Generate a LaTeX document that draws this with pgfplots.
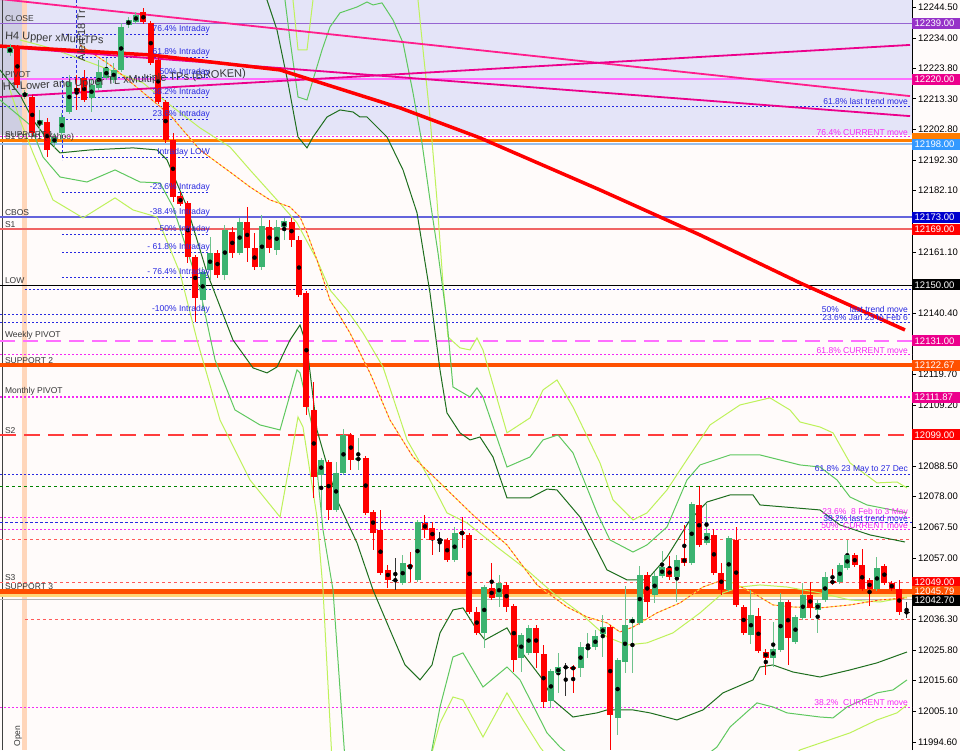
\documentclass[border=0pt]{standalone}
\usepackage{fontspec}
\setmainfont{Liberation Sans}
\usepackage{pgfplots}
\usepackage{pgfplotstable}
\pgfplotsset{compat=1.18}

\definecolor{bg}{RGB}{255,251,250}
\definecolor{lav}{RGB}{228,228,248}
\definecolor{lavdark}{RGB}{206,206,226}
\definecolor{peach}{RGB}{255,214,186}
\definecolor{cup}{RGB}{60,179,113}
\definecolor{cupw}{RGB}{110,195,140}
\definecolor{cdn}{RGB}{255,0,0}
\definecolor{dkg}{RGB}{30,110,30}
\definecolor{mdg}{RGB}{95,200,95}
\definecolor{ltg}{RGB}{190,242,90}
\definecolor{fibb}{RGB}{40,40,225}
\definecolor{fibm}{RGB}{245,40,245}
\definecolor{pinkd}{RGB}{255,30,140}
\definecolor{magl}{RGB}{255,110,255}
\definecolor{orng}{RGB}{255,80,0}
\definecolor{orng2}{RGB}{255,125,0}
\definecolor{closec}{RGB}{150,100,210}
\definecolor{cbosc}{RGB}{100,100,220}
\definecolor{s1c}{RGB}{240,100,100}
\definecolor{reddot}{RGB}{255,90,90}
\definecolor{s2c}{RGB}{255,60,60}
\definecolor{ltblue}{RGB}{150,190,235}
\definecolor{dgdot}{RGB}{0,130,0}
\definecolor{ylband}{RGB}{255,215,120}
\definecolor{bidc}{RGB}{180,180,180}
\definecolor{mayel}{RGB}{255,225,60}
\definecolor{mared}{RGB}{255,50,50}
\definecolor{txt}{RGB}{55,55,55}
\definecolor{bxpurple}{RGB}{150,50,200}
\definecolor{bxblue}{RGB}{51,153,255}
\definecolor{bxdblue}{RGB}{0,0,205}

\newcommand{\lfont}{\fontsize{8.5}{10}\selectfont}
\newcommand{\tfont}{\fontsize{9.5}{11}\selectfont}
\newcommand{\bfont}{\fontsize{11}{13}\selectfont}

% full-width and intraday horizontal lines
\newcommand{\HL}[2]{\addplot[#1] coordinates {(-1.35,#2) (121.73,#2)};}
\newcommand{\SL}[2]{\addplot[#1] coordinates {(7.02,#2) (26.99,#2)};}
% labels
\newcommand{\llab}[2]{\node[anchor=south west, font=\lfont, text=txt, inner sep=0pt, yshift=1.5pt] at (axis cs:-0.7,#1) {#2};}
\newcommand{\rlab}[3]{\node[anchor=south east, font=\lfont, text=#1, inner sep=0pt, yshift=1pt] at (axis cs:121.2,#2) {#3};}
\newcommand{\ilab}[2]{\node[anchor=south east, font=\lfont, text=fibb, inner sep=0pt, yshift=1pt] at (axis cs:26.99,#1) {#2};}
\newcommand{\pbox}[3]{\node[anchor=west, fill=#1, text=white, font=\tfont, inner xsep=2.5pt, inner ysep=0pt, minimum height=11pt, text width=43pt, align=left] at (axis cs:121.73,#2) {#3};}

\pgfplotstableread{
i o h l c
1 12230.6 12231.6 12217.0 12218.0
3 12213.9 12214.6 12200.6 12201.7
5 12205.4 12206.8 12193.5 12195.9
9 12217.0 12221.4 12209.5 12215.9
10 12220.4 12223.1 12212.2 12212.9
18 12242.8 12244.2 12238.7 12239.4
19 12239.1 12239.7 12224.8 12225.5
20 12226.5 12227.2 12211.5 12212.2
21 12212.2 12212.9 12198.3 12199.3
22 12199.3 12201.7 12178.2 12179.9
23 12180.2 12181.6 12176.8 12177.5
24 12177.9 12178.5 12157.5 12159.5
25 12159.5 12160.2 12137.4 12145.6
28 12160.9 12161.9 12152.4 12153.4
30 12168.0 12169.7 12159.2 12160.9
32 12171.7 12176.5 12157.8 12162.6
33 12162.6 12167.7 12155.1 12156.1
35 12169.7 12172.1 12160.9 12162.6
38 12171.4 12172.8 12162.9 12165.3
39 12165.3 12166.6 12145.9 12146.6
40 12147.3 12147.9 12105.8 12108.5
41 12107.5 12117.0 12077.6 12084.7
43 12089.8 12090.5 12070.1 12073.5
46 12099.0 12099.7 12087.1 12090.5
48 12091.2 12091.8 12071.8 12072.5
49 12072.8 12073.5 12059.9 12065.7
50 12066.7 12073.5 12051.4 12052.1
51 12053.1 12054.8 12047.0 12049.7
54 12054.8 12059.2 12049.0 12054.1
56 12069.1 12071.8 12064.0 12066.7
57 12067.4 12069.4 12058.2 12063.3
59 12063.3 12064.0 12055.8 12056.5
61 12066.0 12071.1 12060.6 12065.4
62 12065.0 12065.7 12038.1 12038.8
63 12038.8 12040.5 12031.0 12031.7
65 12047.0 12055.5 12042.9 12043.6
67 12048.0 12049.0 12038.8 12040.5
68 12040.8 12041.5 12018.4 12022.5
71 12033.4 12034.4 12019.8 12024.9
72 12024.5 12027.9 12006.5 12008.2
76 12020.1 12020.8 12011.3 12019.4
81 12033.7 12034.4 11991.9 12003.8
86 12051.7 12052.4 12037.1 12042.2
89 12053.8 12057.8 12049.7 12050.7
91 12057.2 12068.4 12054.4 12055.5
93 12075.2 12081.6 12060.9 12061.6
95 12065.0 12067.0 12051.4 12052.1
96 12052.1 12055.5 12044.6 12046.3
98 12063.3 12068.0 12040.5 12041.2
99 12040.8 12041.5 12031.0 12031.7
101 12037.4 12040.2 12024.9 12025.5
102 12025.5 12026.2 12017.4 12023.2
105 12042.2 12042.9 12020.8 12030.0
108 12044.6 12049.0 12036.8 12040.2
111 12049.3 12053.4 12048.0 12048.7
114 12058.2 12058.9 12054.1 12054.8
115 12054.8 12060.3 12045.9 12046.6
116 12049.7 12050.4 12040.8 12046.6
118 12054.4 12055.1 12048.0 12048.7
119 12048.7 12049.3 12045.9 12046.6
120 12046.6 12050.0 12038.1 12038.8
}\redc

\pgfplotstableread{
i o h l c
0 12228.9 12231.9 12227.8 12230.9
2 12214.2 12216.3 12213.2 12215.3
4 12204.4 12209.5 12200.3 12206.1
6 12198.3 12201.7 12196.6 12200.3
7 12201.7 12208.5 12199.3 12207.1
8 12208.8 12221.4 12208.1 12219.0
11 12213.6 12219.7 12208.8 12218.0
12 12217.0 12226.5 12216.3 12222.4
13 12220.4 12227.2 12219.7 12223.8
14 12219.7 12225.5 12218.7 12223.1
15 12223.1 12239.1 12222.4 12237.7
16 12238.4 12241.1 12237.4 12240.1
17 12239.4 12242.8 12238.7 12241.8
26 12144.9 12156.1 12141.5 12154.4
27 12155.1 12166.3 12151.7 12160.9
29 12153.4 12170.4 12151.7 12168.7
31 12160.9 12172.8 12160.2 12171.4
34 12156.1 12173.8 12155.1 12170.0
36 12161.9 12172.1 12160.2 12169.7
37 12169.7 12172.8 12165.3 12171.7
42 12085.4 12091.2 12070.8 12090.5
44 12073.5 12089.8 12072.8 12086.1
45 12086.1 12101.0 12085.4 12099.0
47 12090.5 12097.9 12087.1 12091.2
53 12048.7 12058.2 12048.0 12055.5
55 12049.7 12070.1 12049.0 12069.4
60 12056.5 12067.7 12055.8 12065.7
64 12031.7 12048.0 12026.6 12047.3
66 12043.9 12051.4 12040.5 12048.7
69 12023.2 12031.7 12018.4 12031.0
70 12024.9 12034.4 12024.2 12033.4
73 12008.5 12019.4 12006.2 12018.7
74 12018.1 12024.9 12011.3 12020.1
77 12019.8 12028.6 12016.7 12026.9
78 12026.2 12031.7 12023.2 12026.9
79 12026.9 12032.7 12025.9 12030.6
80 12031.3 12037.8 12023.5 12033.7
82 12002.8 12023.2 11997.0 12022.5
83 12021.8 12047.6 12018.1 12034.4
84 12035.1 12037.1 12018.1 12036.4
85 12035.1 12054.4 12034.4 12051.4
87 12044.6 12052.4 12041.9 12051.0
88 12051.0 12059.6 12050.4 12054.1
90 12050.7 12058.2 12042.2 12056.5
92 12055.5 12076.2 12054.8 12075.5
94 12062.3 12075.5 12061.6 12065.7
97 12046.3 12064.7 12045.6 12064.0
100 12031.0 12046.3 12027.9 12037.8
103 12023.2 12035.4 12020.1 12026.2
104 12025.9 12045.3 12025.2 12042.2
106 12028.6 12037.8 12027.9 12037.1
107 12036.8 12048.7 12036.1 12044.6
109 12039.5 12042.9 12031.7 12041.9
110 12042.9 12052.4 12042.2 12051.0
112 12049.0 12055.5 12048.3 12054.8
113 12053.8 12063.3 12053.1 12058.2
117 12046.6 12057.5 12045.9 12053.8
}\greenc

\pgfplotstableread{
i o h l c
52 12049.7 12057.2 12046.3 12049.7
58 12063.3 12066.0 12059.2 12063.3
75 12020.1 12021.5 12010.2 12020.1
121 12038.8 12042.2 12036.8 12038.8
}\dojic

% red/yellow dashed moving average
\pgfplotstableread{
x y
9.45 12231.6
13.50 12224.8
17.54 12216.3
21.59 12207.8
25.64 12195.9
29.69 12188.4
32.39 12183.3
35.09 12178.9
37.79 12176.5
39.14 12173.1
40.08 12167.7
41.43 12158.5
43.18 12144.9
45.88 12133.7
48.58 12120.1
51.28 12104.1
54.39 12091.5
57.62 12083.7
62.48 12071.8
67.07 12061.6
71.12 12048.0
75.17 12040.5
77.87 12037.1
80.57 12035.1
82.32 12032.0
84.08 12033.7
87.31 12038.5
90.42 12041.9
93.52 12047.3
96.22 12049.7
97.57 12048.7
100.27 12045.3
102.97 12041.2
105.67 12040.5
109.31 12040.2
113.36 12041.2
117.41 12042.9
121.05 12043.6
}\matab

\begin{document}
\begin{tikzpicture}
\fill[bg] (0,0) rectangle (960pt,750pt);
\begin{axis}[
    at={(0,0)}, anchor=south west,
    scale only axis, width=912pt, height=750pt,
    xmin=-1.35, xmax=121.73,
    ymin=11991.88, ymax=12246.88,
    clip mode=individual,
    axis x line=none,
    axis y line*=right,
    y axis line style={black, line width=0.8pt},
    scaled y ticks=false,
    ytick={12244.5,12234,12223.8,12213.3,12202.8,12192.3,12182.1,12161.1,12140.4,12119.7,12109.2,12088.5,12078,12067.5,12057,12036.3,12025.8,12015.6,12005.1,11994.6},
    tick align=outside,
    major tick length=4pt,
    ytick style={black, line width=0.6pt},
    yticklabel style={font=\tfont, text=black, inner xsep=2pt,
        /pgf/number format/fixed, /pgf/number format/fixed zerofill,
        /pgf/number format/precision=2, /pgf/number format/1000 sep={},
        /pgf/number format/assume math mode=true},
    candle/.style={only marks, no markers, mark options={draw=none, fill=none},
        error bars/.cd, y dir=both, y explicit, error mark=none},
]
% shaded zones
\addplot[fill=lav, draw=none] coordinates {(-1.35,12201.0) (121.73,12201.0) (121.73,12246.88) (-1.35,12246.88)} -- cycle;
\addplot[fill=lavdark, draw=none] coordinates {(-1.35,12201.0) (1.62,12201.0) (1.62,12246.88) (-1.35,12246.88)} -- cycle;
\addplot[fill=peach, draw=none] coordinates {(1.62,11991.88) (2.3,11991.88) (2.3,12246.88) (1.62,12246.88)} -- cycle;
\addplot[black!75, line width=1pt] coordinates {(-1.08,11991.88) (-1.08,12246.88)};

% horizontal levels
\HL{closec, line width=1.2pt}{12239}
\HL{magl, line width=1.5pt}{12220}
\HL{fibb, line width=0.9pt, dash pattern=on 2pt off 2pt}{12210.8}
\HL{fibm, line width=1pt, dash pattern=on 2pt off 2pt}{12200.3}
\HL{ltblue, line width=2pt}{12198.0}
\HL{orng2, line width=3pt}{12199.0}
\HL{cbosc, line width=1.8pt}{12173}
\HL{s1c, line width=1.2pt}{12169}
\HL{black, line width=0.8pt}{12150}
\addplot[fibb, line width=0.9pt, dash pattern=on 2pt off 2pt] coordinates {(2.0,12148.6) (121.73,12148.6)};
\HL{fibb, line width=0.9pt, dash pattern=on 2pt off 2pt}{12140.1}
\HL{fibb, line width=0.9pt, dash pattern=on 2pt off 2pt}{12137.4}
\HL{magl, line width=1.4pt, dash pattern=on 15pt off 8pt}{12131}
\HL{fibm, line width=1pt, dash pattern=on 2pt off 2pt}{12126.2}
\HL{orng, line width=4pt}{12122.67}
\HL{fibm, line width=1.2pt, dash pattern=on 2pt off 2pt}{12111.87}
\HL{s2c, line width=1.2pt, dash pattern=on 16pt off 8pt}{12099}
\HL{fibb, line width=0.9pt, dash pattern=on 2pt off 2pt}{12085.7}
\HL{dgdot, line width=0.9pt, dash pattern=on 3pt off 3pt}{12081.6}
\HL{fibm, line width=1pt, dash pattern=on 2pt off 2pt}{12071.1}
\HL{fibb, line width=0.9pt, dash pattern=on 3pt off 2pt}{12069.1}
\HL{fibm, line width=1pt, dash pattern=on 2pt off 2pt}{12066.7}
\HL{reddot, line width=1pt, dash pattern=on 3pt off 3pt}{12063.3}
\HL{reddot, line width=1pt, dash pattern=on 3pt off 3pt}{12049}
\HL{ylband, line width=4pt}{12044.6}
\HL{orng, line width=4.5pt}{12045.79}
\HL{bidc, line width=1pt}{12042.9}
\addplot[reddot, line width=1pt, dash pattern=on 3pt off 3pt] coordinates {(2.0,12036.4) (121.73,12036.4)};
\HL{fibm, line width=1pt, dash pattern=on 2pt off 2pt}{12006.5}

% intraday fibonacci lines
\SL{fibb, line width=0.9pt, dash pattern=on 2pt off 2pt}{12235.0}
\SL{fibb, line width=0.9pt, dash pattern=on 2pt off 2pt}{12227.2}
\SL{fibb, line width=0.9pt, dash pattern=on 2pt off 2pt}{12220.7}
\SL{fibb, line width=0.9pt, dash pattern=on 2pt off 2pt}{12213.9}
\SL{fibb, line width=0.9pt, dash pattern=on 2pt off 2pt}{12206.4}
\SL{fibb, line width=0.9pt, dash pattern=on 2pt off 2pt}{12193.5}
\SL{fibb, line width=0.9pt, dash pattern=on 2pt off 2pt}{12181.3}
\SL{fibb, line width=0.9pt, dash pattern=on 2pt off 2pt}{12167.0}
\SL{fibb, line width=0.9pt, dash pattern=on 2pt off 2pt}{12160.9}
\SL{fibb, line width=0.9pt, dash pattern=on 2pt off 2pt}{12152.7}

% vertical markers
\addplot[fibb, line width=0.9pt, dash pattern=on 3pt off 2pt] coordinates {(7.05,12219.7) (7.05,12192.5)};
\addplot[fibb, line width=0.9pt, dash pattern=on 3pt off 2pt] coordinates {(8.95,12246.88) (8.95,12212.9)};

% band envelopes
\addplot[ltg, line width=1pt] coordinates {
(37.79,12257.1) (38.19,12246.9) (38.87,12229.9) (40.08,12229.9) (40.89,12246.9) (41.57,12257.1)
(54.25,12257.1) (55.06,12246.9) (55.74,12229.9) (56.68,12207.1) (57.62,12178.9) (58.43,12150.7)
(59.11,12132.3) (60.73,12128.6) (62.08,12127.9) (63.02,12132.0) (63.83,12127.9) (67.07,12099.7)
(70.18,12104.8) (71.93,12114.3) (73.82,12117.7) (75.98,12108.5) (79.62,12089.5) (81.38,12076.9)
(84.08,12070.1) (85.96,12072.5) (88.66,12080.3) (91.77,12092.2) (94.47,12102.4) (98.52,12109.2)
(102.56,12111.6) (105.26,12107.5) (106.61,12103.4) (109.31,12101.7) (111.07,12099.7) (113.36,12089.5)
(117.00,12082.7) (119.70,12083.0) (121.05,12081.0)};
\addplot[ltg, line width=1pt] coordinates {
(0,12216.3) (1.35,12206.1) (3.10,12194.9) (5.80,12178.9) (9.85,12172.8) (14.17,12179.6)
(16.60,12175.5) (19.84,12173.1) (22.94,12154.1) (25.24,12131.3) (28.34,12104.1) (32.39,12083.7)
(36.44,12071.1) (38.87,12105.1) (39.54,12101.7) (41.43,12071.1) (42.24,12046.3) (43.45,11988.5)
(56.68,11988.5) (58.03,12001.1) (59.78,12009.9) (61.13,12008.9) (63.83,11996.3) (67.07,12011.3)
(69.23,12002.1) (71.52,11992.9) (72.87,11988.5) (105.26,11988.5) (106.61,11991.9) (113.36,11997.7)
(117.00,12002.1) (119.70,12004.5) (121.05,12007.2)};
\addplot[mdg, line width=1pt] coordinates {
(36.44,12257.1) (37.11,12246.9) (37.79,12233.3) (38.87,12213.9) (40.08,12212.9) (40.89,12219.7)
(42.11,12229.9) (43.18,12237.7) (44.53,12242.5) (46.83,12244.5) (48.18,12246.2) (48.99,12245.2)
(50.20,12245.9) (51.69,12240.1) (53.04,12232.3) (54.39,12215.3) (55.60,12198.3) (56.68,12178.9)
(57.76,12160.9) (58.97,12138.1) (59.78,12115.3) (62.08,12111.9) (63.02,12115.0) (63.83,12111.9)
(67.07,12088.1) (70.18,12091.5) (71.93,12097.3) (73.95,12099.0) (75.98,12092.9) (79.22,12072.5)
(80.97,12063.3) (84.08,12059.2) (85.96,12061.6) (88.66,12067.7) (91.36,12083.7) (93.12,12088.8)
(97.17,12092.2) (101.21,12092.2) (106.61,12088.8) (109.31,12088.1) (111.61,12083.7) (113.36,12077.9)
(115.65,12075.2) (121.05,12072.5)};
\addplot[mdg, line width=1pt] coordinates {
(-1.35,12212.9) (2.70,12204.4) (4.45,12193.5) (6.75,12186.7) (10.39,12185.0) (14.17,12189.1)
(17.54,12185.0) (20.24,12184.7) (22.00,12176.5) (25.64,12148.3) (27.67,12124.5) (30.36,12107.5)
(33.74,12102.4) (36.44,12100.7) (38.73,12121.1) (39.14,12120.1) (40.89,12100.7) (42.24,12066.7)
(43.59,12046.3) (45.21,11988.5) (56.68,11988.5) (58.03,12006.5) (59.78,12023.5) (61.13,12024.9)
(63.83,12013.3) (67.07,12020.1) (68.83,12015.7) (72.47,11997.7) (74.22,11992.9) (76.25,11988.5)
(93.12,11988.5) (95.41,11992.9) (97.17,11999.7) (100.81,12007.9) (102.97,12006.5) (104.86,12004.5)
(109.31,12003.1) (111.07,12002.8) (112.96,12006.5) (117.00,12011.3) (119.16,12012.3) (121.05,12015.7)};
\addplot[dkg, line width=1pt] coordinates {
(33.06,12257.1) (34.68,12246.9) (36.03,12236.7) (37.52,12218.7) (38.87,12200.3) (40.08,12196.6)
(40.89,12200.3) (42.78,12207.1) (44.53,12209.5) (46.29,12208.8) (47.23,12207.1) (48.18,12207.1)
(49.53,12203.7) (50.88,12200.3) (53.04,12189.1) (54.93,12174.5) (56.68,12147.3) (58.03,12121.1)
(58.97,12106.5) (60.73,12099.7) (62.08,12097.3) (63.43,12098.3) (65.18,12091.5) (67.07,12077.6)
(70.18,12077.6) (72.47,12080.6) (73.82,12080.3) (76.92,12071.1) (80.57,12053.1) (83.27,12049.7)
(85.96,12049.7) (88.66,12057.5) (91.77,12070.1) (94.06,12076.2) (97.17,12078.6) (100.27,12078.6)
(101.21,12075.2) (109.31,12073.5) (112.01,12068.4) (116.06,12065.0) (120.78,12062.6)};
\addplot[dkg, line width=1pt] coordinates {
(-1.35,12223.1) (1.35,12214.6) (3.10,12206.1) (5.40,12198.3) (6.75,12194.9) (10.80,12195.9)
(16.60,12196.6) (19.84,12195.9) (21.19,12192.5) (23.89,12176.5) (26.59,12154.1) (30.09,12131.3)
(32.79,12121.8) (34.68,12120.1) (36.03,12122.1) (37.79,12131.3) (39.14,12136.4) (40.08,12128.9)
(41.43,12100.7) (44.13,12076.9) (46.83,12062.3) (48.99,12046.3) (51.28,12032.7) (53.31,12020.8)
(55.33,12015.7) (56.95,12020.8) (58.03,12031.7) (59.78,12039.5) (61.13,12040.2) (63.02,12032.7)
(64.10,12029.3) (67.07,12033.4) (68.83,12025.9) (71.93,12015.7) (73.28,12008.9) (75.98,12003.1)
(79.22,12004.5) (80.57,12005.5) (84.08,12005.5) (86.37,12004.5) (90.01,12002.1) (93.52,12005.5)
(96.22,12011.3) (100.27,12015.7) (101.21,12020.1) (102.97,12020.8) (105.67,12018.4) (109.31,12016.7)
(113.36,12019.1) (117.00,12021.5) (121.05,12025.2)};
% light moving average
\addplot[ltg, line width=1pt] coordinates {
(1.35,12233.3) (5.40,12230.6) (9.85,12226.5) (13.50,12223.1) (17.95,12218.7) (21.59,12211.2)
(25.64,12203.4) (29.69,12196.9) (32.39,12189.1) (36.03,12178.9) (38.73,12171.1) (41.43,12158.5)
(43.18,12148.3) (45.48,12141.5) (47.64,12133.7) (50.34,12122.1) (53.58,12097.3) (56.68,12083.7)
(58.97,12072.5) (61.67,12069.1) (65.72,12060.9) (69.77,12053.1) (73.28,12045.3) (76.92,12038.5)
(80.57,12030.3) (83.27,12027.6) (85.96,12028.3) (89.47,12031.7) (93.12,12038.5) (96.22,12045.3)
(98.52,12047.3) (101.21,12048.0) (104.86,12047.3) (109.31,12045.3) (113.36,12042.9) (117.41,12042.2)
(121.05,12043.9)};
% red/yellow dashed average
\addplot[mayel, line width=1pt] table[x=x, y=y] {\matab};
\addplot[mared, line width=0.8pt, dash pattern=on 2pt off 2.5pt] table[x=x, y=y] {\matab};

% trend lines
\addplot[pinkd, line width=1.8pt] coordinates {(-1.35,12247.2) (121.46,12214.2)};
\addplot[magenta, line width=1.8pt] coordinates {(-1.35,12213.9) (121.46,12231.6)};
\addplot[magenta, line width=1.8pt] coordinates {(-1.35,12231.0) (121.46,12207.4)};
\addplot[red, line width=3.5pt] coordinates {
(-1.35,12231.2) (18.89,12228.2) (36.44,12223.1) (52.63,12210.2) (63.43,12200.0)
(79.62,12182.3) (93.12,12167.0) (106.61,12150.7) (120.78,12134.7)};

% candles: wicks then bodies
\addplot[candle, error bar style={line width=1pt, draw=cdn}]
    table[x=i, y expr={(\thisrow{h}+\thisrow{l})/2}, y error expr={(\thisrow{h}-\thisrow{l})/2}] {\redc};
\addplot[candle, error bar style={line width=1pt, draw=cupw}]
    table[x=i, y expr={(\thisrow{h}+\thisrow{l})/2}, y error expr={(\thisrow{h}-\thisrow{l})/2}] {\greenc};
\addplot[candle, error bar style={line width=1pt, draw=black!80}]
    table[x=i, y expr={(\thisrow{h}+\thisrow{l})/2}, y error expr={(\thisrow{h}-\thisrow{l})/2}] {\dojic};
\addplot[candle, error bar style={line width=6pt, draw=cdn}]
    table[x=i, y expr={(\thisrow{o}+\thisrow{c})/2}, y error expr={max(abs(\thisrow{o}-\thisrow{c})/2,0.35)}] {\redc};
\addplot[candle, error bar style={line width=6pt, draw=cup}]
    table[x=i, y expr={(\thisrow{o}+\thisrow{c})/2}, y error expr={max(abs(\thisrow{o}-\thisrow{c})/2,0.35)}] {\greenc};
\addplot[candle, error bar style={line width=6pt, draw=black!80}]
    table[x=i, y expr={(\thisrow{o}+\thisrow{c})/2}, y error expr={max(abs(\thisrow{o}-\thisrow{c})/2,0.2)}] {\dojic};

% left labels
\llab{12239}{CLOSE}
\node[anchor=base west, font=\bfont, text=txt, inner sep=0pt, rotate=-3] at (axis cs:-0.7,12233.6) {H4 Upper xMultiTPs};
\llab{12220}{PIVOT}
\node[anchor=base west, font=\bfont, text=txt, inner sep=0pt, rotate=3.4] at (axis cs:-0.95,12216.0) {H1 Lower and Upper TL xMultiple TPs (BROKEN)};
\node[rotate=90, anchor=west, font=\bfont, text=txt, inner sep=0pt] at (axis cs:9.6,12226.0) {Alert 18 Tr};
\llab{12199.6}{SUPPORT 1}
\node[anchor=south west, font=\lfont, text=txt, inner sep=0pt, yshift=0.5pt] at (axis cs:-0.7,12198.6) {S1 D1 H1 (Yahoo)};
\llab{12173}{CBOS}
\llab{12169}{S1}
\llab{12150}{LOW}
\llab{12131}{Weekly PIVOT}
\llab{12122.67}{SUPPORT 2}
\llab{12111.87}{Monthly PIVOT}
\llab{12099}{S2}
\llab{12049}{S3}
\llab{12045.79}{SUPPORT 3}
\node[rotate=90, anchor=west, font=\lfont, text=txt, inner sep=0pt] at (axis cs:1.1,11993.0) {Open};

% intraday fib labels
\ilab{12235.0}{76.4\%  Intraday}
\ilab{12227.2}{61.8\%  Intraday}
\ilab{12220.7}{50\%  Intraday}
\ilab{12213.9}{38.2\%  Intraday}
\ilab{12206.4}{23.6\%  Intraday}
\ilab{12193.5}{Intraday LOW}
\ilab{12181.3}{-23.6\%  Intraday}
\ilab{12173.1}{-38.4\%  Intraday}
\ilab{12167.0}{- 50\%  Intraday}
\ilab{12160.9}{- 61.8\%  Intraday}
\ilab{12152.7}{- 76.4\%  Intraday}
\ilab{12140.1}{-100\%  Intraday}

% right fib labels
\rlab{fibb}{12210.8}{61.8\% last trend move}
\rlab{fibm}{12200.3}{76.4\% CURRENT move}
\rlab{fibb}{12140.1}{50\% \quad last trend move}
\rlab{fibb}{12137.4}{23.6\%  Jan 23 to Feb 6}
\rlab{fibm}{12126.2}{61.8\% CURRENT move}
\rlab{fibb}{12085.7}{61.8\%  23 May to 27 Dec}
\rlab{fibm}{12071.1}{23.6\%  \ 8 Feb to 3 May}
\rlab{fibb}{12069.1}{38.2\% last trend move}
\rlab{fibm}{12066.7}{50\% \ CURRENT move}
\rlab{fibm}{12006.5}{38.2\%  \ CURRENT move}

% price boxes on the scale
\pbox{bxpurple}{12239}{12239.00}
\pbox{magenta}{12220}{12220.00}
\pbox{orng2}{12199.8}{}
\pbox{bxblue}{12197.9}{12198.00}
\pbox{bxdblue}{12173}{12173.00}
\pbox{red}{12169}{12169.00}
\pbox{black}{12150}{12150.00}
\pbox{magenta}{12131}{12131.00}
\pbox{orng}{12122.67}{12122.67}
\pbox{magenta}{12111.87}{12111.87}
\pbox{red}{12099}{12099.00}
\pbox{red}{12049}{12049.00}
\pbox{orng}{12045.79}{12045.79}
\pbox{black}{12042.7}{12042.70}
\end{axis}
\pgfresetboundingbox
\useasboundingbox (0,0) rectangle (960pt,750pt);
\end{tikzpicture}
\end{document}
